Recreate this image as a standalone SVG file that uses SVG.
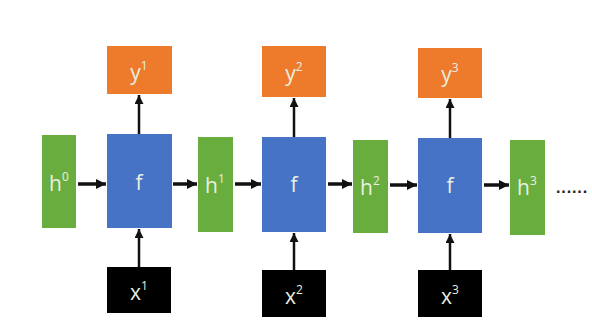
<svg xmlns="http://www.w3.org/2000/svg" width="592" height="333" viewBox="0 0 592 333">
<defs>
<style>
.h{fill:#6AAD3F}
.f{fill:#4673C6}
.y{fill:#EE7A2C}
.x{fill:#000}
.t{font-family:"Open Sans","Liberation Sans",sans-serif;font-size:21px;fill:#E8F0E0;text-anchor:middle;dominant-baseline:central}
.s{font-size:12px}
.c line{stroke:#111;stroke-width:3}
.c line.hz{stroke-width:3.5}
.c line.vt{stroke-width:2.5}
</style>
<marker id="a" viewBox="0 0 10 10" refX="10" refY="5" markerWidth="3" markerHeight="3" orient="auto"><path d="M0,0 L10,5 L0,10 z" fill="#111"/></marker>
<marker id="b" viewBox="0 0 10 10" refX="10" refY="5" markerWidth="3.6" markerHeight="3.6" orient="auto"><path d="M0,0 L10,5 L0,10 z" fill="#111"/></marker>
</defs>
<rect width="592" height="333" fill="#fff"/>
<g class="c">
<line class="hz" x1="78" y1="184" x2="106" y2="184" marker-end="url(#a)"/>
<line class="hz" x1="173" y1="184" x2="197" y2="184" marker-end="url(#a)"/>
<line class="hz" x1="235" y1="184" x2="261" y2="184" marker-end="url(#a)"/>
<line class="hz" x1="328" y1="184" x2="352" y2="184" marker-end="url(#a)"/>
<line class="hz" x1="390" y1="185" x2="417" y2="185" marker-end="url(#a)"/>
<line class="hz" x1="484" y1="185" x2="509" y2="185" marker-end="url(#a)"/>
<line class="vt" x1="139" y1="267" x2="139" y2="229" marker-end="url(#b)"/>
<line class="vt" x1="139" y1="134" x2="139" y2="95" marker-end="url(#b)"/>
<line class="vt" x1="294" y1="270" x2="294" y2="233" marker-end="url(#b)"/>
<line class="vt" x1="294" y1="137" x2="294" y2="98" marker-end="url(#b)"/>
<line class="vt" x1="450" y1="270" x2="450" y2="234" marker-end="url(#b)"/>
<line class="vt" x1="450" y1="138" x2="450" y2="99" marker-end="url(#b)"/>
</g>
<g id="h0"><rect class="h" x="42" y="135" width="34" height="93"/><text class="t" x="59" y="183">h<tspan class="s" dy="-7">0</tspan></text></g>
<g id="f1"><rect class="f" x="107" y="134" width="65" height="94"/><text class="t" x="139" y="182">f</text></g>
<g id="y1"><rect class="y" x="107" y="46" width="65" height="48"/><text class="t" x="139" y="72">y<tspan class="s" dy="-7">1</tspan></text></g>
<g id="x1"><rect class="x" x="107" y="267" width="64" height="46"/><text class="t" x="139" y="292">x<tspan class="s" dy="-7">1</tspan></text></g>
<g id="h1"><rect class="h" x="198" y="137" width="35" height="95"/><text class="t" x="215" y="185">h<tspan class="s" dy="-7">1</tspan></text></g>
<g id="f2"><rect class="f" x="262" y="137" width="64" height="95"/><text class="t" x="294" y="184">f</text></g>
<g id="y2"><rect class="y" x="262" y="46" width="64" height="51"/><text class="t" x="294" y="73">y<tspan class="s" dy="-7">2</tspan></text></g>
<g id="x2"><rect class="x" x="262" y="270" width="64" height="47"/><text class="t" x="294" y="296">x<tspan class="s" dy="-7">2</tspan></text></g>
<g id="h2"><rect class="h" x="353" y="140" width="35" height="93"/><text class="t" x="370" y="187">h<tspan class="s" dy="-7">2</tspan></text></g>
<g id="f3"><rect class="f" x="418" y="138" width="64" height="95"/><text class="t" x="450" y="185">f</text></g>
<g id="y3"><rect class="y" x="418" y="48" width="64" height="50"/><text class="t" x="450" y="74">y<tspan class="s" dy="-7">3</tspan></text></g>
<g id="x3"><rect class="x" x="418" y="270" width="64" height="47"/><text class="t" x="450" y="296">x<tspan class="s" dy="-7">3</tspan></text></g>
<g id="h3"><rect class="h" x="510" y="140" width="35" height="95"/><text class="t" x="527" y="187">h<tspan class="s" dy="-7">3</tspan></text></g>
<g id="dots"><text x="572" y="191" font-family="Liberation Sans,sans-serif" font-size="16" font-weight="bold" fill="#222" text-anchor="middle" dominant-baseline="central">······</text></g>
</svg>
